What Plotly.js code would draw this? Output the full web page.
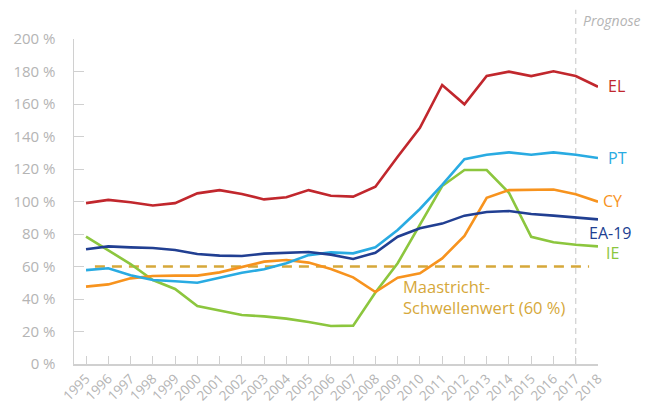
<!DOCTYPE html>
<html>
<head>
<meta charset="utf-8">
<script src="https://cdn.plot.ly/plotly-3.0.1.min.js"></script>
<style>
  html, body { margin: 0; padding: 0; background: #ffffff; }
  #chart { width: 646px; height: 412px; }
</style>
</head>
<body>
<div id="chart"></div>
<script>
// Jahre 1995-2018 (2018 = Prognose)
const years = [1995, 1996, 1997, 1998, 1999, 2000, 2001, 2002, 2003, 2004, 2005, 2006,
  2007, 2008, 2009, 2010, 2011, 2012, 2013, 2014, 2015, 2016, 2017, 2018];

// Bruttoschuldenstand in % des BIP
const el = [99, 101, 99.5, 97.5, 99, 105, 107, 104.6, 101.3, 102.6, 107, 103.5,
  103, 109.1, 127.6, 145.4, 171.7, 159.8, 177.2, 179.9, 177.2, 180.1, 177.2, 170.6];
const pt = [57.8, 58.9, 54.6, 51.7, 50.9, 50, 53.1, 56.2, 58.3, 62, 67, 68.7,
  68.1, 71.8, 82.5, 95.4, 110.2, 126, 128.8, 130.2, 128.8, 130.2, 128.8, 126.8];
const cy = [47.6, 49, 52.7, 54.2, 54.4, 54.4, 56.4, 59.5, 63, 64, 62.4, 58.5,
  53.3, 44.3, 53.1, 55.8, 65, 78.8, 102.3, 107, 107.4, 107.4, 104.4, 99.9];
const ea19 = [70.6, 72.4, 71.8, 71.4, 70.2, 67.7, 66.7, 66.5, 67.9, 68.3, 68.9, 67.3,
  64.6, 68.5, 78.3, 83.5, 86.4, 91.3, 93.5, 94.2, 92.3, 91.3, 90.2, 89];
const ie = [78.4, 70.2, 61.5, 51.7, 46.2, 35.7, 32.8, 30.2, 29.3, 27.9, 25.8, 23.4,
  23.6, 44, 62, 85.7, 109.5, 119.4, 119.4, 105.4, 78.3, 74.9, 73.4, 72.4];

const threshold = 60;
const prognoseYear = 2017;
const lastYear = 2018;

const yTicks = [0, 20, 40, 60, 80, 100, 120, 140, 160, 180, 200];

const FONT = "'Open Sans', 'DejaVu Sans', sans-serif";
const GREY = "#b4b4b4";

function line(y, color, name) {
  return {
    x: years,
    y: y,
    type: "scatter",
    mode: "lines",
    name: name,
    line: { color: color, width: 2.6 },
    hoverinfo: "skip",
  };
}

// Beschriftung am rechten Rand
function endLabel(text, y, xshift, color) {
  return {
    text: text, xref: "x", yref: "y", x: lastYear, y: y, xshift: xshift,
    xanchor: "left", yanchor: "middle", showarrow: false,
    font: { family: FONT, size: 16, color: color },
  };
}

const traces = [
  line(ie, "#8cc63e", "IE"),
  line(cy, "#f7931e", "CY"),
  line(pt, "#29abe2", "PT"),
  line(ea19, "#213f92", "EA-19"),
  line(el, "#c1272d", "EL"),
];

const layout = {
  width: 646,
  height: 412,
  margin: { l: 74, r: 48, t: 39, b: 48 },
  paper_bgcolor: "#ffffff",
  plot_bgcolor: "#ffffff",
  showlegend: false,
  font: { family: FONT, color: GREY, size: 13 },
  xaxis: {
    range: [1994.46, 2018],
    tickmode: "array",
    tickvals: years,
    ticktext: years.map(String),
    tickangle: -45,
    ticks: "inside",
    ticklen: 8,
    tickwidth: 1,
    tickcolor: "#d0d0d0",
    showline: true,
    linecolor: "#d0d0d0",
    linewidth: 1.5,
    showgrid: false,
    zeroline: false,
    tickfont: { family: FONT, color: GREY, size: 13.5 },
  },
  yaxis: {
    range: [0, 200],
    tickmode: "array",
    tickvals: yTicks,
    ticktext: yTicks.map(v => v + " %"),
    ticks: "inside",
    ticklen: 10,
    tickwidth: 1,
    tickcolor: "#d0d0d0",
    ticklabelstandoff: 14,
    showline: true,
    linecolor: "#d0d0d0",
    linewidth: 1.5,
    showgrid: false,
    zeroline: false,
    tickfont: { family: FONT, color: GREY, size: 15 },
  },
  shapes: [
    {
      type: "line", xref: "x", yref: "y",
      x0: 1995.4, x1: 2017.6, y0: threshold, y1: threshold,
      line: { color: "#d6a83a", width: 2.6, dash: "10px,7px" },
      layer: "below",
    },
    {
      type: "line", xref: "x", yref: "paper",
      x0: prognoseYear, x1: prognoseYear, y0: 0, y1: 1.09,
      line: { color: "#d0d0d0", width: 1.2, dash: "6px,4px" },
      layer: "below",
    },
  ],
  annotations: [
    { text: "Prognose", xref: "x", yref: "paper", x: 2017.25, y: 1.056,
      xanchor: "left", yanchor: "middle", showarrow: false,
      font: { family: FONT, size: 14, color: GREY, style: "italic" } },
    endLabel("EL", 171, 8, "#c1272d"),
    endLabel("PT", 126.8, 8, "#29abe2"),
    endLabel("CY", 100.3, 3, "#f7931e"),
    endLabel("EA-19", 80.6, -11, "#213f92"),
    endLabel("IE", 68.3, 6, "#8cc63e"),
    { text: "Maastricht-<br>Schwellenwert (60 %)", xref: "x", yref: "y",
      x: 2009.15, y: 41.3, xanchor: "left", yanchor: "middle", align: "left",
      showarrow: false,
      font: { family: FONT, size: 16.5, color: "#d6a83a" } },
  ],
};

Plotly.newPlot("chart", traces, layout, { displayModeBar: false, staticPlot: true });
</script>
</body>
</html>
